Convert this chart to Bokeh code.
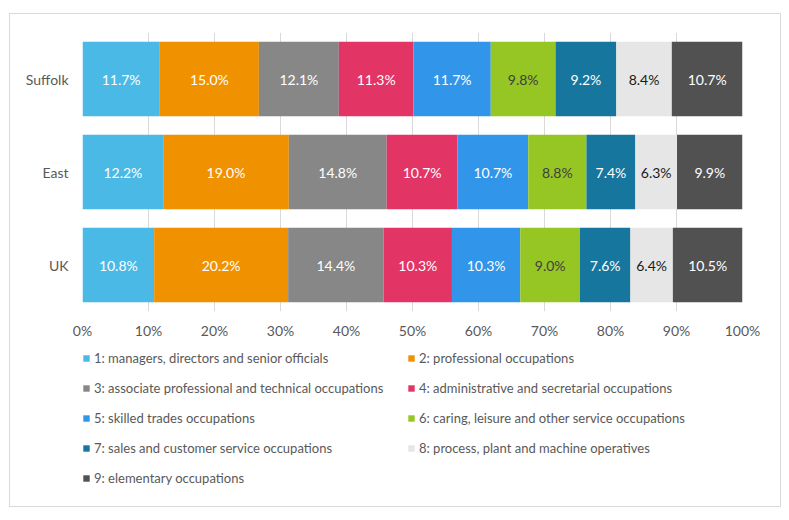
from bokeh.plotting import figure
from bokeh.layouts import column
from bokeh.models import (ColumnDataSource, FactorRange, Range1d, FixedTicker,
                          PrintfTickFormatter, Legend, LegendItem)
from bokeh.core.properties import value
from bokeh.embed import file_html
from bokeh.resources import INLINE

areas = ["Suffolk", "East", "UK"]
occupations = [
    "1: managers, directors and senior officials",
    "2: professional occupations",
    "3: associate professional and technical occupations",
    "4: administrative and secretarial occupations",
    "5: skilled trades occupations",
    "6: caring, leisure and other service occupations",
    "7: sales and customer service occupations",
    "8: process, plant and machine operatives",
    "9: elementary occupations",
]
suffolk = [11.7, 15.0, 12.1, 11.3, 11.7, 9.8, 9.2, 8.4, 10.7]
east = [12.2, 19.0, 14.8, 10.7, 10.7, 8.8, 7.4, 6.3, 9.9]
uk = [10.8, 20.2, 14.4, 10.3, 10.3, 9.0, 7.6, 6.4, 10.5]
colors = ["#4AB9E5", "#F09100", "#878787", "#E23565", "#3196E9",
          "#95C623", "#17769D", "#E6E6E6", "#515151"]
label_colors = ["#FFFFFF", "#FFFFFF", "#FFFFFF", "#FFFFFF", "#FFFFFF",
                "#404040", "#FFFFFF", "#1A1A1A", "#FFFFFF"]
x_ticks = [0, 10, 20, 30, 40, 50, 60, 70, 80, 90, 100]

FONT = "Lato"
series = [suffolk, east, uk]

# 100% stacked: normalise each row
data = {"area": areas}
stackers = []
for k in range(len(occupations)):
    key = f"s{k}"
    stackers.append(key)
    data[key] = [row[k] / sum(row) * 100 for row in series]
source = ColumnDataSource(data)

# label positions (segment midpoints)
lx, ly, lt, lc = [], [], [], []
for i, row in enumerate(series):
    tot = sum(row)
    cum = 0.0
    for k, v in enumerate(row):
        share = v / tot * 100
        lx.append(cum + share / 2)
        ly.append(areas[i])
        lt.append(f"{v:.1f}%")
        lc.append(label_colors[k])
        cum += share
label_src = ColumnDataSource(dict(x=lx, y=ly, text=lt, color=lc))

p = figure(
    y_range=FactorRange(factors=list(reversed(areas))),
    x_range=Range1d(0, 100),
    frame_width=660, frame_height=279,
    min_border_left=72, min_border_right=38,
    min_border_top=18, min_border_bottom=32,
    output_backend="svg", toolbar_location=None,
)

renderers = p.hbar_stack(stackers, y="area", height=0.8, color=colors,
                         line_color=None, source=source)

p.text(x="x", y="y", text="text", text_color="color", source=label_src,
       text_align="center", text_baseline="middle",
       text_font=value(FONT), text_font_size="14px")

p.outline_line_color = None
p.ygrid.grid_line_color = None
p.xgrid.grid_line_color = "#D9D9D9"
p.xaxis.ticker = FixedTicker(ticks=x_ticks)
p.xaxis.formatter = PrintfTickFormatter(format="%d%%")
for ax in (p.xaxis, p.yaxis):
    ax.axis_line_color = None
    ax.major_tick_line_color = None
    ax.minor_tick_line_color = None
    ax.major_tick_out = 0
    ax.major_tick_in = 0
    ax.major_label_text_font = FONT
    ax.major_label_text_font_size = "14px"
    ax.major_label_text_color = "#595959"
p.xaxis.major_label_standoff = 10
p.yaxis.major_label_standoff = 14

# legend panel (separate figure below the chart); hidden copies of the
# stacked bars provide the legend swatches
p2 = figure(width=770, height=163, x_range=Range1d(0, 100),
            y_range=FactorRange(factors=list(reversed(areas))),
            x_axis_type=None, y_axis_type=None, min_border=0,
            output_backend="svg", toolbar_location=None)
p2.outline_line_color = None
p2.grid.visible = False
proxies = p2.hbar_stack(stackers, y="area", height=0.8, color=colors,
                        line_color=None, source=source)
for r in proxies:
    r.visible = False

order = [0, 2, 4, 6, 8, 1, 3, 5, 7]
items = [LegendItem(label=occupations[k], renderers=[proxies[k]])
         for k in order]
leg = Legend(items=items, orientation="vertical", nrows=5,
             location=(0, 13), border_line_color=None,
             background_fill_alpha=0, padding=0, margin=0, spacing=0,
             label_height=30, label_width=313, glyph_height=8, glyph_width=8,
             label_standoff=4, label_text_font=FONT,
             label_text_font_size="13px", label_text_color="#595959",
             inactive_fill_alpha=0)
p2.add_layout(leg, "center")

layout = column(p, p2, margin=(13, 0, 0, 9),
                styles={"border": "1px solid #D9D9D9"})

open("out.html", "w").write(file_html(layout, INLINE))
